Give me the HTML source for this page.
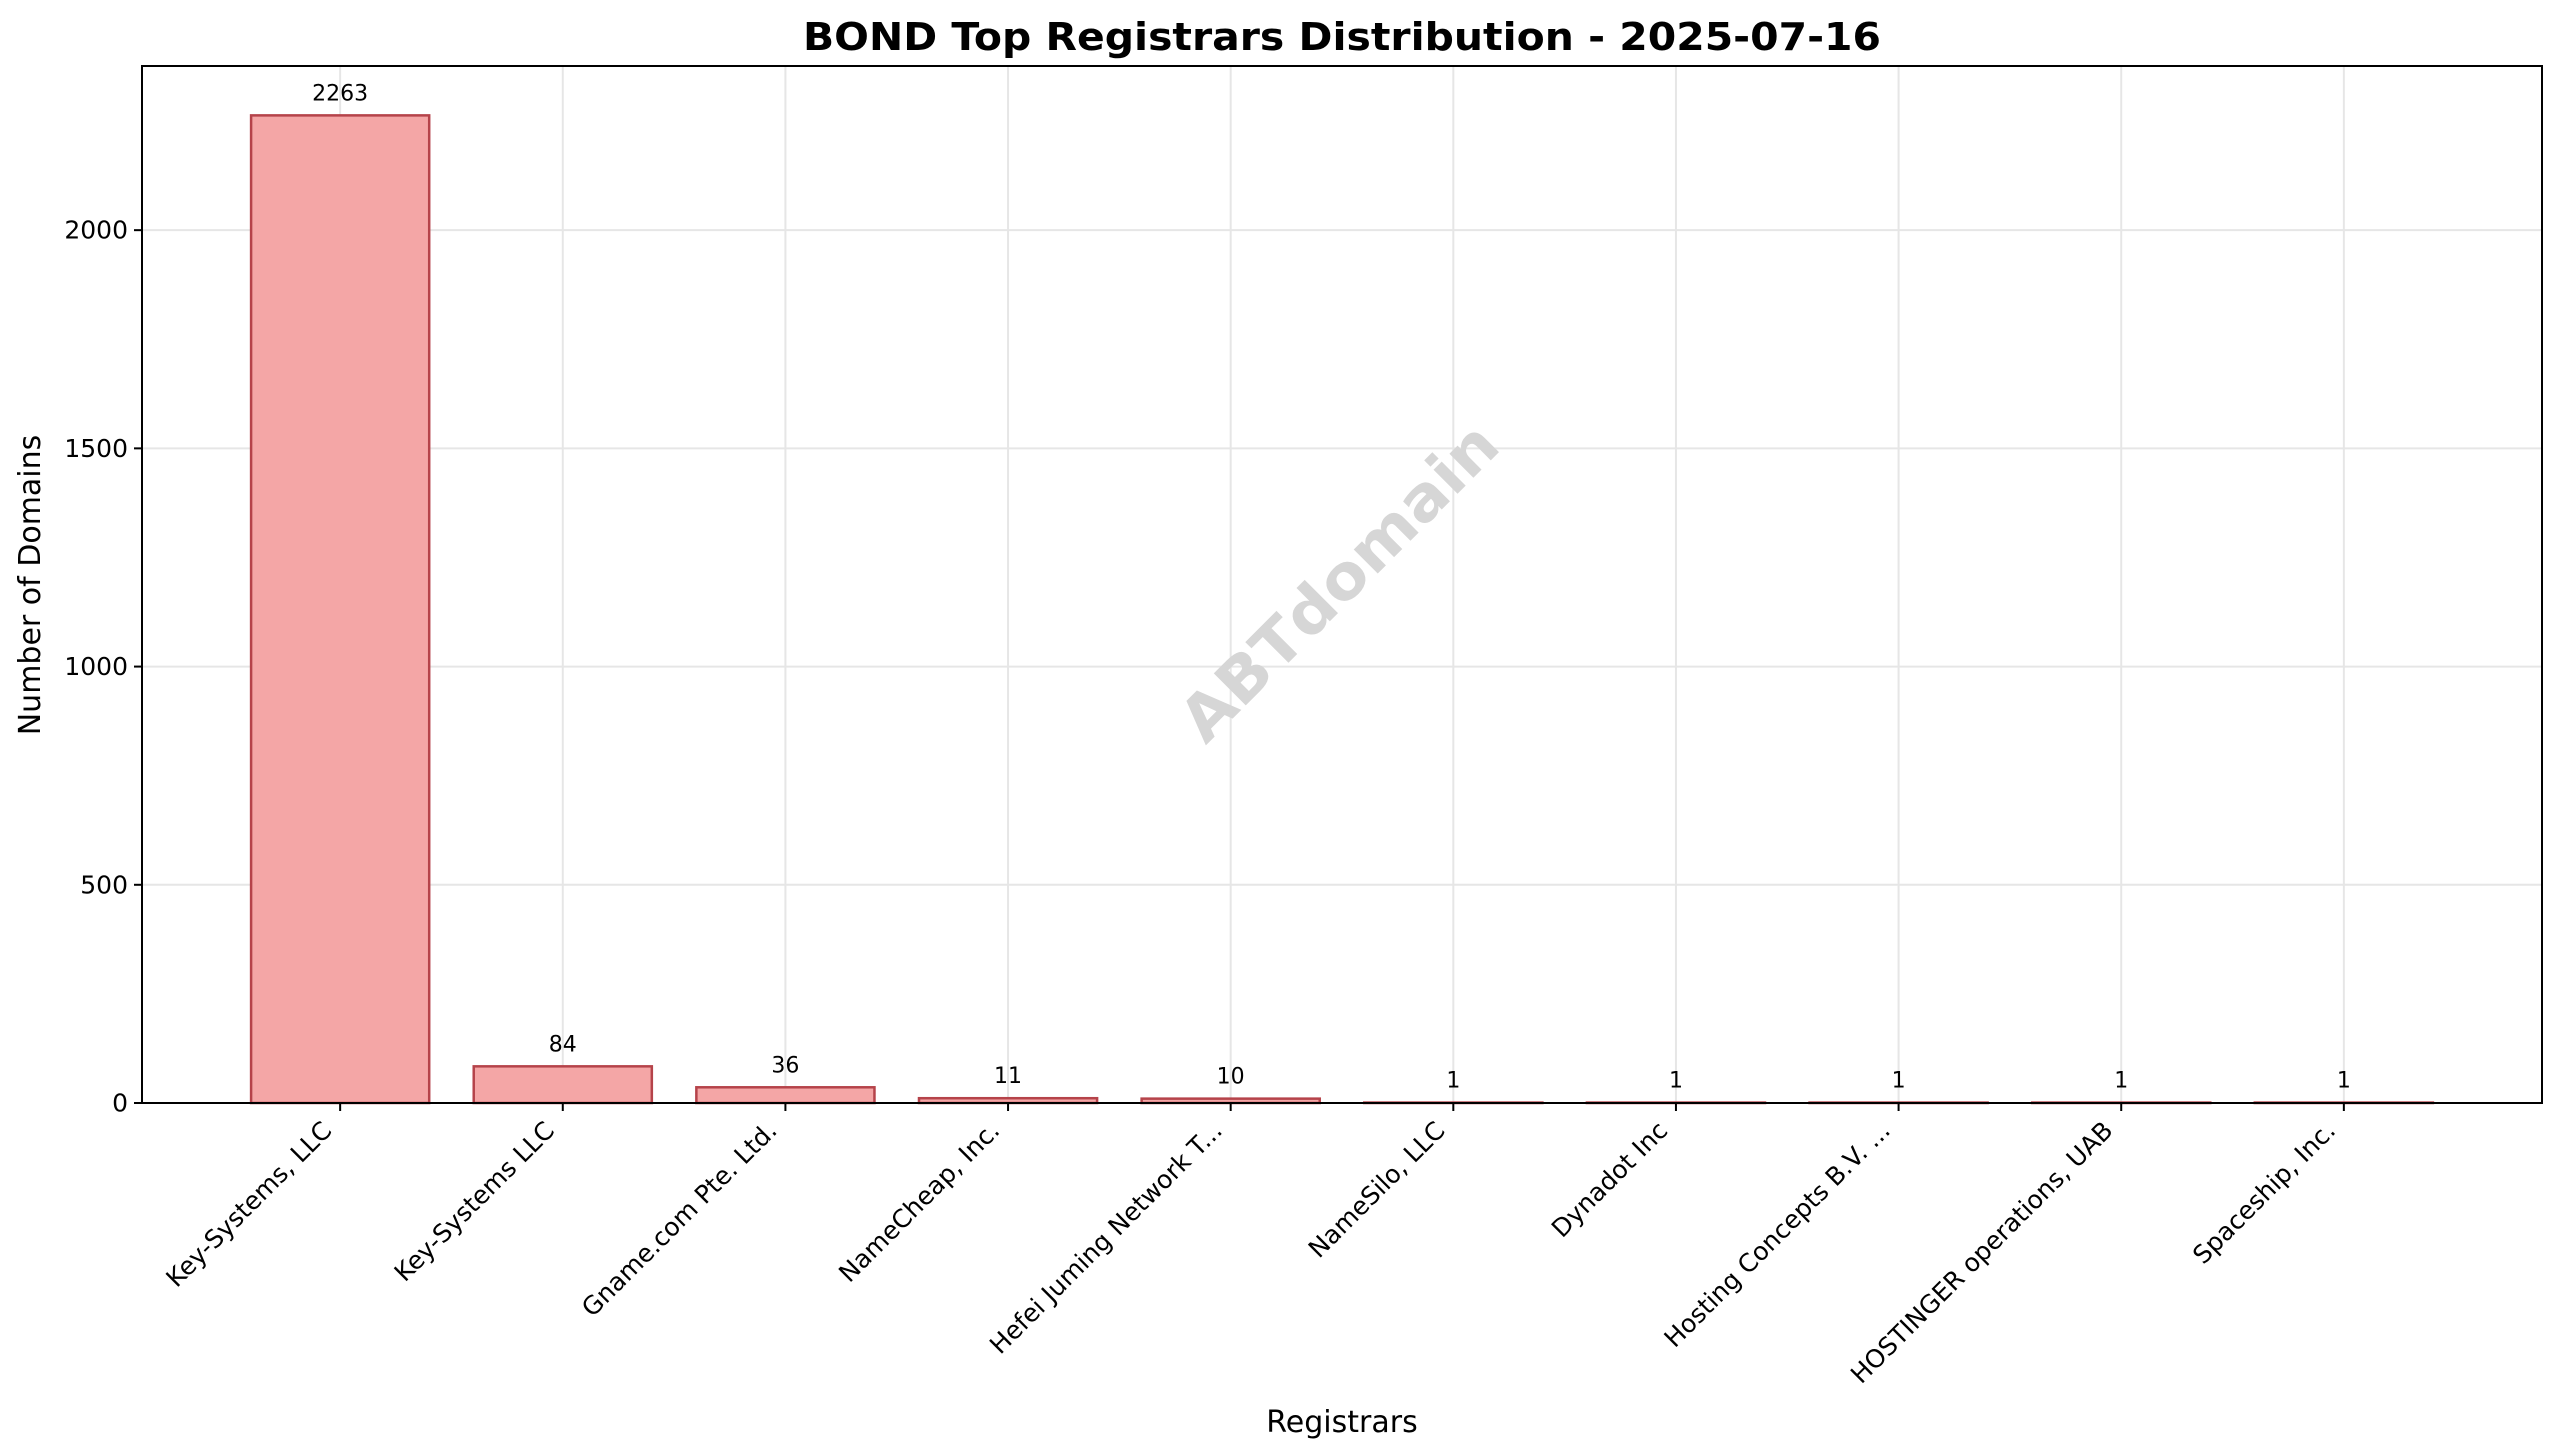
<!DOCTYPE html>
<html><head><meta charset="utf-8"><style>
html,body{margin:0;padding:0;background:#fff;}
svg{display:block;font-family:"DejaVu Sans","Liberation Sans",sans-serif;}
</style></head><body>
<svg id="chart" width="2560" height="1456" viewBox="0 0 2560 1456" xmlns="http://www.w3.org/2000/svg">
<rect x="0" y="0" width="2560" height="1456" fill="#fff"/>
<text x="1342" y="50" text-anchor="middle" font-size="38" font-weight="bold" textLength="1078" lengthAdjust="spacingAndGlyphs">BOND Top Registrars Distribution - 2025-07-16</text>
<g id="grid"></g>
<g id="bars"></g>
<text x="1342" y="585" text-anchor="middle" dominant-baseline="middle" font-size="62" font-weight="bold" fill="#d6d6d6" textLength="420" lengthAdjust="spacingAndGlyphs" transform="rotate(-45 1342 585)">ABTdomain</text>
<g id="axes"></g>
<text x="1342" y="1432" text-anchor="middle" font-size="30">Registrars</text>
<text x="0" y="0" text-anchor="middle" font-size="30" transform="translate(40 585) rotate(-90)">Number of Domains</text>
</svg>
<script>
const categories = ["Key-Systems, LLC","Key-Systems LLC","Gname.com Pte. Ltd.","NameCheap, Inc.","Hefei Juming Network T...","NameSilo, LLC","Dynadot Inc","Hosting Concepts B.V. ...","HOSTINGER operations, UAB","Spaceship, Inc."];
const counts = [2263,84,36,11,10,1,1,1,1,1];
const yTicks = [0,500,1000,1500,2000];

const NS = "http://www.w3.org/2000/svg";
const L = 142, R = 2542, T = 66, B = 1103;
const xMin = -0.89, xMax = categories.length - 1 + 0.89;
const yMax = Math.max(...counts) * 1.05;
const xs = v => L + (v - xMin) / (xMax - xMin) * (R - L);
const ys = v => B - v / yMax * (B - T);
const bw = 0.8 * (R - L) / (xMax - xMin);

function mk(tag, attrs, parent, text) {
  const el = document.createElementNS(NS, tag);
  for (const k in attrs) el.setAttribute(k, attrs[k]);
  if (text !== undefined) el.textContent = text;
  parent.appendChild(el);
  return el;
}
const grid = document.getElementById('grid');
const bars = document.getElementById('bars');
const axes = document.getElementById('axes');

yTicks.forEach(t => {
  const g = mk('line', {x1: L, x2: R, y1: ys(t), y2: ys(t), stroke: '#e6e6e6', 'stroke-width': 2}, grid);
  
  
});
categories.forEach((c, i) => {
  const g = mk('line', {x1: xs(i), x2: xs(i), y1: T, y2: B, stroke: '#e6e6e6', 'stroke-width': 2}, grid);
  
  
});

categories.forEach((c, i) => {
  const v = counts[i];
  const r = mk('rect', {x: xs(i) - bw / 2, y: ys(v), width: bw, height: B - ys(v), fill: 'rgb(244,166,166)', stroke: '#b5434a', 'stroke-width': 2.5}, bars);
  
  
  const lab = mk('text', {x: xs(i), y: ys(v) - 15, 'text-anchor': 'middle', 'font-size': 22}, bars, String(v));
  
  
});

const frame = mk('rect', {x: L, y: T, width: R - L, height: B - T, fill: 'none', stroke: '#000', 'stroke-width': 2}, axes);



yTicks.forEach(t => {
  const tk = mk('line', {x1: L - 8, x2: L, y1: ys(t), y2: ys(t), stroke: '#000', 'stroke-width': 2}, axes);
  
  
  const tl = mk('text', {x: L - 14, y: ys(t), 'text-anchor': 'end', 'dominant-baseline': 'central', 'font-size': 25}, axes, String(t));
  
  
});
categories.forEach((c, i) => {
  const x = xs(i);
  const tk = mk('line', {x1: x, x2: x, y1: B, y2: B + 8, stroke: '#000', 'stroke-width': 2}, axes);
  
  
  const ex = x - 7, ey = 1132;
  const tl = mk('text', {x: ex, y: ey, 'text-anchor': 'end', 'font-size': 25, transform: 'rotate(-45 ' + ex + ' ' + ey + ')'}, axes, c);
  
  
});
</script>
</body></html>
